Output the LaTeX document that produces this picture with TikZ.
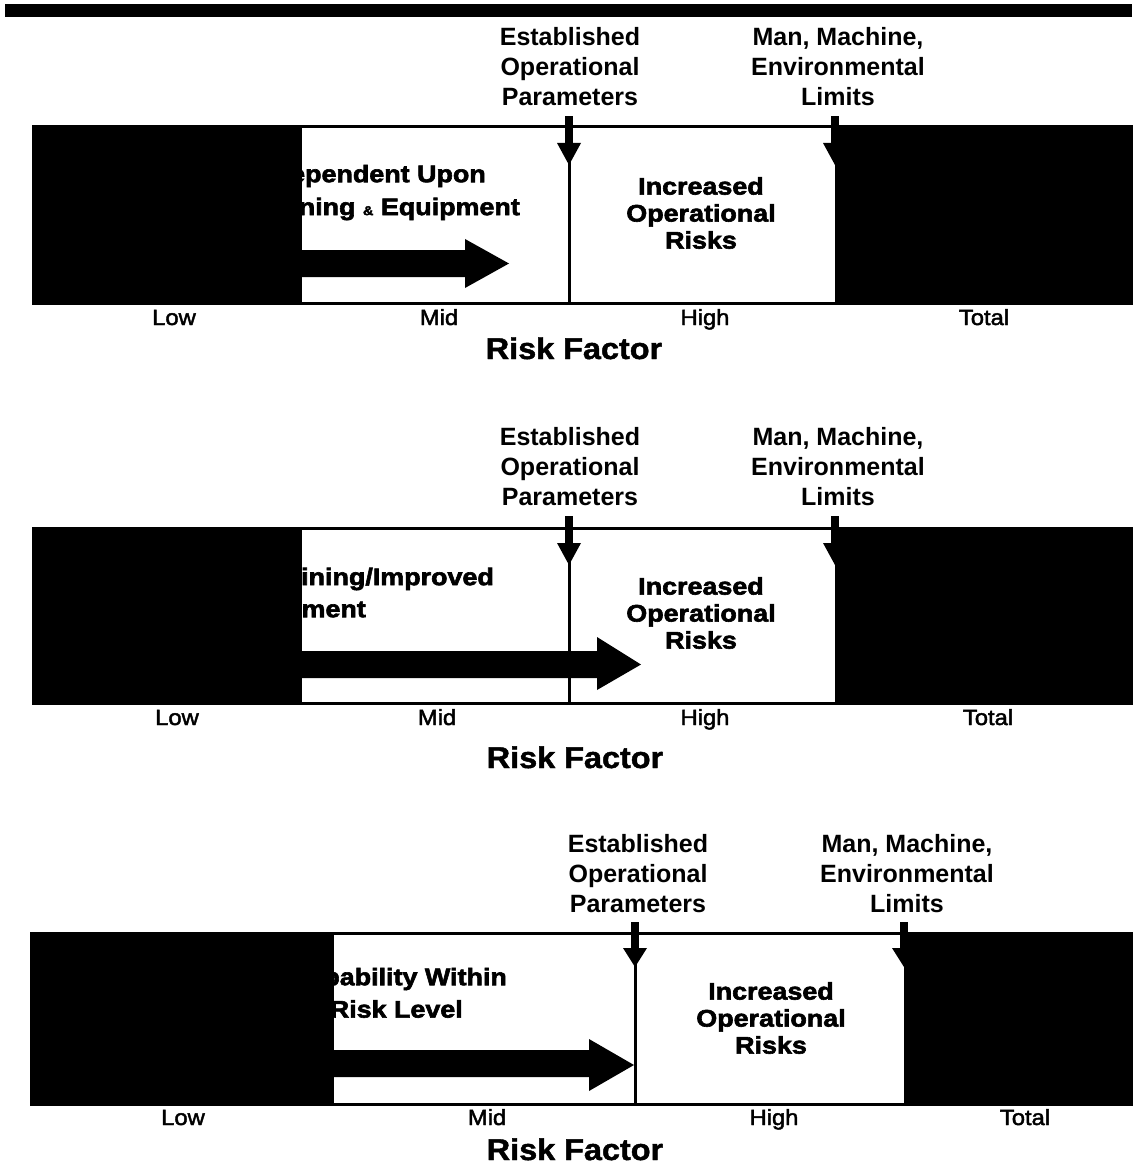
\documentclass[tikz,border=0pt]{standalone}
\usepackage{fontspec}
\setmainfont{Liberation Sans}
\newfontfamily\hvy[FakeBold=2.5,FakeStretch=1.12]{Liberation Sans}
\newfontfamily\rff[FakeBold=1.5,FakeStretch=1.08]{Liberation Sans}
\newfontfamily\med[FakeBold=2,FakeStretch=1.08]{Liberation Sans}
\begin{document}
\begin{tikzpicture}[x=1pt,y=-1pt,
  box/.style={draw=black,fill=white,line width=3pt},
  hd/.style={font=\bfseries\fontsize{25}{30}\selectfont,align=center,inner sep=0pt},
  inbox/.style={font=\hvy\bfseries\fontsize{24}{27}\selectfont,align=center,inner sep=0pt},
  axl/.style={font=\med\fontsize{22}{22}\selectfont,inner sep=0pt,anchor=base},
  rf/.style={font=\rff\bfseries\fontsize{30}{30}\selectfont,inner sep=0pt,anchor=base},
  thin/.style={line width=3pt}]
\useasboundingbox (0,0) rectangle (1132,1166);
\fill (5,4) rectangle (1132,17);

%% ---------- panel 1 ----------
\draw[box] (33,127) rectangle (1145,303);
\node[inbox,anchor=east] (p1ta) at (486,176) {Dependent Upon};
\node[inbox,anchor=east] (p1tb) at (520,209) {Training {\fontsize{13}{13}\selectfont\&} Equipment};
\node[inbox] (p1inc) at (701,213) {Increased\\Operational\\Risks};
\fill (200,250) -- (465,250) -- (465,239) -- (509,263.5) -- (465,288) -- (465,277) -- (200,277) -- cycle;
\fill (33,127) rectangle (302,303);
\fill (835,127) rectangle (1140,303);
\coordinate (p1e) at (569,116);
\coordinate (p1eb) at (569,303);
\fill ([xshift=-4pt]p1e) rectangle ([xshift=4pt,yshift=-28pt]p1e);
\fill ([xshift=-12pt,yshift=-27pt]p1e) -- ([xshift=12pt,yshift=-27pt]p1e) -- ([yshift=-49pt]p1e) -- cycle;
\draw[thin] ([yshift=-45pt]p1e) -- (p1eb);
\coordinate (p1m) at (835,116);
\fill ([xshift=-4pt]p1m) rectangle ([xshift=4pt,yshift=-28pt]p1m);
\fill ([xshift=-12pt,yshift=-27pt]p1m) -- ([xshift=12pt,yshift=-27pt]p1m) -- ([yshift=-49pt]p1m) -- cycle;
\node[hd] (p1el) at (570,67) {Established\\Operational\\Parameters};
\node[hd] (p1ml) at (838,67) {Man, Machine,\\Environmental\\Limits};
\node[axl] (p1lo) at (174,325) {Low};
\node[axl] (p1mi) at (439,325) {Mid};
\node[axl] (p1hi) at (705,325) {High};
\node[axl] (p1to) at (984,325) {Total};
\node[rf] (p1rf) at (574,359) {Risk Factor};

%% ---------- panel 2 ----------
\draw[box] (33,528) rectangle (1145,703);
\node[inbox,anchor=east] (p2ta) at (494,579) {Training/Improved};
\node[inbox,anchor=east] (p2tb) at (366,611) {Equipment};
\node[inbox] (p2inc) at (701,613) {Increased\\Operational\\Risks};
\fill (200,651) -- (597,651) -- (597,637) -- (641,664.5) -- (597,690) -- (597,678) -- (200,678) -- cycle;
\fill (33,528) rectangle (302,703);
\fill (835,528) rectangle (1140,703);
\coordinate (p2e) at (569,516);
\coordinate (p2eb) at (569,703);
\fill ([xshift=-4pt]p2e) rectangle ([xshift=4pt,yshift=-28pt]p2e);
\fill ([xshift=-12pt,yshift=-27pt]p2e) -- ([xshift=12pt,yshift=-27pt]p2e) -- ([yshift=-49pt]p2e) -- cycle;
\draw[thin] ([yshift=-45pt]p2e) -- (p2eb);
\coordinate (p2m) at (835,516);
\fill ([xshift=-4pt]p2m) rectangle ([xshift=4pt,yshift=-28pt]p2m);
\fill ([xshift=-12pt,yshift=-27pt]p2m) -- ([xshift=12pt,yshift=-27pt]p2m) -- ([yshift=-49pt]p2m) -- cycle;
\node[hd] (p2el) at (570,467) {Established\\Operational\\Parameters};
\node[hd] (p2ml) at (838,467) {Man, Machine,\\Environmental\\Limits};
\node[axl] (p2lo) at (177,725) {Low};
\node[axl] (p2mi) at (437,725) {Mid};
\node[axl] (p2hi) at (705,725) {High};
\node[axl] (p2to) at (988,725) {Total};
\node[rf] (p2rf) at (575,768) {Risk Factor};

%% ---------- panel 3 ----------
\draw[box] (31,933) rectangle (1145,1104);
\node[inbox,anchor=east] (p3ta) at (507,979) {Capability Within};
\node[inbox,anchor=east] (p3tb) at (463,1009) {Risk Level};
\node[inbox] (p3inc) at (771,1018) {Increased\\Operational\\Risks};
\fill (200,1050) -- (589,1050) -- (589,1039) -- (634,1065) -- (589,1091) -- (589,1077) -- (200,1077) -- cycle;
\fill (31,933) rectangle (334,1104);
\fill (904,933) rectangle (1140,1104);
\coordinate (p3e) at (635,922);
\coordinate (p3eb) at (635,1104);
\fill ([xshift=-4pt]p3e) rectangle ([xshift=4pt,yshift=-27pt]p3e);
\fill ([xshift=-12pt,yshift=-26pt]p3e) -- ([xshift=12pt,yshift=-26pt]p3e) -- ([yshift=-45pt]p3e) -- cycle;
\draw[thin] ([yshift=-41pt]p3e) -- (p3eb);
\coordinate (p3m) at (904,922);
\fill ([xshift=-4pt]p3m) rectangle ([xshift=4pt,yshift=-27pt]p3m);
\fill ([xshift=-12pt,yshift=-26pt]p3m) -- ([xshift=12pt,yshift=-26pt]p3m) -- ([yshift=-45pt]p3m) -- cycle;
\node[hd] (p3el) at (638,874) {Established\\Operational\\Parameters};
\node[hd] (p3ml) at (907,874) {Man, Machine,\\Environmental\\Limits};
\node[axl] (p3lo) at (183,1125) {Low};
\node[axl] (p3mi) at (487,1125) {Mid};
\node[axl] (p3hi) at (774,1125) {High};
\node[axl] (p3to) at (1025,1125) {Total};
\node[rf] (p3rf) at (575,1160) {Risk Factor};
\end{tikzpicture}
\end{document}
